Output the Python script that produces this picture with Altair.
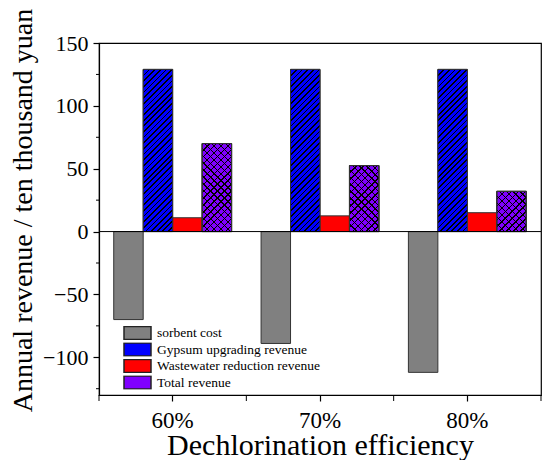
import math
import altair as alt
import pandas as pd

categories = ["60%", "70%", "80%"]
series = ["sorbent cost", "Gypsum upgrading revenue",
          "Wastewater reduction revenue", "Total revenue"]
sorbent_cost = [-70, -89, -112]
gypsum_revenue = [129, 129, 129]
wastewater_revenue = [11, 12.5, 15]
total_revenue = [70, 52.5, 32]
colors = ["#808080", "#0000FF", "#FF0000", "#8000FF"]
y_major = [-100, -50, 0, 50, 100, 150]
y_minor = [-125, -75, -25, 25, 75, 125]

W, H = 442, 352
YDOM = [-130, 150]
FONT = "Liberation Serif"

rows = []
for s, vals in zip(series, [sorbent_cost, gypsum_revenue, wastewater_revenue, total_revenue]):
    for c, v in zip(categories, vals):
        rows.append({"cat": c, "series": s, "value": v})
df = pd.DataFrame(rows)

bar_w = W / len(categories) / (len(series) + 1)


def px_h(v):
    return abs(v) * H / (YDOM[1] - YDOM[0])


def stripes(h, line, bg, period, lw, slope):
    w = bar_w
    a = w / h
    L = (w + h) / math.sqrt(2)
    n = max(1, round(L / period))
    f = min(0.9, lw / (L / n))
    stops = []
    for k in range(n):
        o0, o1, o2 = k / n, (k + f) / n, (k + 1) / n
        stops += [{"offset": o0, "color": line}, {"offset": o1, "color": line},
                  {"offset": o1, "color": bg}, {"offset": o2, "color": bg}]
    s = (a + 1) / (a * a + 1)
    if slope == "/":
        return alt.LinearGradient(gradient="linear", x1=0, y1=0, x2=s * a, y2=s, stops=stops)
    return alt.LinearGradient(gradient="linear", x1=0, y1=1, x2=s * a, y2=1 - s, stops=stops)


xenc = alt.X("cat:N", sort=categories, title="Dechlorination efficiency",
             scale=alt.Scale(domain=categories, paddingInner=0, paddingOuter=0),
             axis=alt.Axis(labelAngle=0, tickSize=6, labelPadding=8, labelFontSize=23,
                           labelFont=FONT, titleFont=FONT, labelFontWeight="normal",
                           titleFontSize=30, titleBaseline="alphabetic", titleY=59,
                           titleFontWeight="normal"))
xoff = alt.XOffset("series:N", sort=series,
                   scale=alt.Scale(domain=series, paddingInner=0, paddingOuter=0.5))
yenc = alt.Y("value:Q", title="Annual revenue / ten thousand yuan",
             scale=alt.Scale(domain=YDOM, nice=False, zero=False),
             axis=alt.Axis(values=y_major, tickSize=6, labelPadding=5, labelFontSize=22,
                           labelFont=FONT, titleFont=FONT, labelFontWeight="normal",
                           grid=False, titleFontSize=28, titleFontWeight="normal",
                           titleAngle=270, titleBaseline="alphabetic", titleAlign="center",
                           titleX=-68, titleY=167))

base = alt.Chart(df).mark_bar(stroke="#333333", strokeWidth=1).encode(
    x=xenc, xOffset=xoff, y=yenc,
    color=alt.Color("series:N", sort=series,
                    scale=alt.Scale(domain=series, range=colors),
                    legend=alt.Legend(title=None, orient="none", legendX=24, legendY=283,
                                      symbolType="M-1,-0.48H1V0.48H-1Z", symbolSize=729,
                                      symbolStrokeColor="#222222", symbolStrokeWidth=1.5,
                                      labelFont=FONT, labelFontSize=13.5, labelOffset=5,
                                      labelLimit=400, rowPadding=2.5, clipHeight=14,
                                      padding=0, symbolOpacity=1)),
)

layers = [base]

blue_fill = stripes(px_h(gypsum_revenue[0]), "#000000", "#0000FF", 4.0, 1.2, "/")
layers.append(
    alt.Chart(df).transform_filter(alt.datum.series == series[1])
    .mark_bar(fill=blue_fill, stroke="#333333", strokeWidth=1)
    .encode(x=xenc, xOffset=xoff, y=yenc)
)

for c, v in zip(categories, total_revenue):
    for slope in ["/", "\\"]:
        g = stripes(px_h(v), "#000000", "rgba(0,0,0,0)", 5.0, 1.0, slope)
        layers.append(
            alt.Chart(df).transform_filter((alt.datum.series == series[3]) & (alt.datum.cat == c))
            .mark_bar(fill=g, stroke="#333333", strokeWidth=1)
            .encode(x=xenc, xOffset=xoff, y=yenc)
        )

zero = alt.Chart(pd.DataFrame({"v": [0]})).mark_rule(color="black", strokeWidth=1).encode(
    y=alt.Y("v:Q", scale=alt.Scale(domain=YDOM, nice=False, zero=False)))
layers.append(zero)

minor = alt.Chart(pd.DataFrame({"v": y_minor})).mark_rule(color="black", strokeWidth=1).encode(
    y=alt.Y("v:Q", scale=alt.Scale(domain=YDOM, nice=False, zero=False)),
    x=alt.value(-3), x2=alt.value(0))
layers.append(minor)

edge_df = pd.DataFrame({"cat": categories})
edges = alt.Chart(edge_df).mark_rule(color="black", strokeWidth=1).encode(
    x=alt.X("cat:N", sort=categories, bandPosition=0), y=alt.value(H), y2=alt.value(H + 6))
edge_end = alt.Chart(edge_df).transform_filter(alt.datum.cat == categories[-1]).mark_rule(
    color="black", strokeWidth=1).encode(
    x=alt.X("cat:N", sort=categories, bandPosition=1), y=alt.value(H), y2=alt.value(H + 6))
layers += [edges, edge_end]

chart = alt.layer(*layers).properties(
    width=W, height=H, background="white",
    padding={"left": 0, "top": 0, "right": 0, "bottom": 0},
).configure(font=FONT).configure_view(stroke="black", strokeWidth=1.2).configure_axis(
    labelFont=FONT, titleFont=FONT, labelColor="black", titleColor="black",
    domainColor="black", tickColor="black", domainWidth=1.2, tickWidth=1.2,
).configure_text(font=FONT)

chart.save("out.html", embed_options={"renderer": "svg", "actions": False})
